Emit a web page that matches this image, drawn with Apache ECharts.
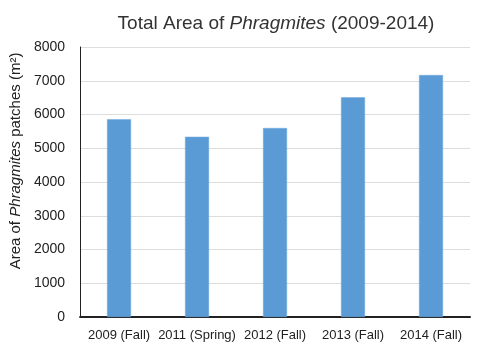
<!DOCTYPE html>
<html>
<head>
<meta charset="utf-8">
<script src="https://cdn.jsdelivr.net/npm/echarts@6/dist/echarts.min.js"></script>
<style>
  html, body { margin: 0; padding: 0; background: #fff; }
  #chart { width: 480px; height: 350px; }
</style>
</head>
<body>
<div id="chart"></div>
<script>
// Survey periods and total mapped area of Phragmites patches (m²)
const periods = ['2009 (Fall)', '2011 (Spring)', '2012 (Fall)', '2013 (Fall)', '2014 (Fall)'];
const totalArea = [5860, 5340, 5600, 6510, 7170];
const yTicks = { min: 0, max: 8000, step: 1000 };

const FONT = 'Liberation Sans, Arial, sans-serif';
const chart = echarts.init(document.getElementById('chart'));

chart.setOption({
  backgroundColor: '#ffffff',
  animation: false,
  title: {
    text: 'Total Area of {i|Phragmites} (2009-2014)',
    left: 271,
    textAlign: 'center',
    top: 9,
    textStyle: {
      fontFamily: FONT,
      fontSize: 19,
      fontWeight: 'normal',
      color: '#333333',
      rich: {
        i: { fontFamily: FONT, fontSize: 19, fontStyle: 'italic', color: '#333333' }
      }
    }
  },
  grid: { left: 80, right: 10, top: 47, bottom: 33 },
  xAxis: {
    type: 'category',
    data: periods,
    axisLine: { lineStyle: { color: '#222222', width: 2 } },
    axisTick: { show: false },
    axisLabel: { fontFamily: FONT, fontSize: 13, color: '#222222', margin: 12, interval: 0 }
  },
  yAxis: {
    type: 'value',
    min: yTicks.min,
    max: yTicks.max,
    interval: yTicks.step,
    name: 'Area of {i|Phragmites} patches (m²)',
    nameLocation: 'middle',
    nameGap: 56,
    nameTextStyle: {
      fontFamily: FONT,
      fontSize: 15,
      color: '#222222',
      padding: [0, 0, 0, 42],
      rich: {
        i: { fontFamily: FONT, fontSize: 15, fontStyle: 'italic', color: '#222222' }
      }
    },
    axisLine: { show: true, lineStyle: { color: '#222222', width: 1 } },
    axisTick: { show: false },
    axisLabel: {
      fontFamily: FONT, fontSize: 14, color: '#222222', margin: 15,
      formatter: (v) => String(v)
    },
    splitLine: { lineStyle: { color: '#dddddd', width: 1 } }
  },
  series: [{
    type: 'bar',
    data: totalArea,
    barWidth: 24,
    itemStyle: { color: '#5b9bd5', borderColor: '#6fa8dc', borderWidth: 0.5 }
  }]
});
</script>
</body>
</html>
